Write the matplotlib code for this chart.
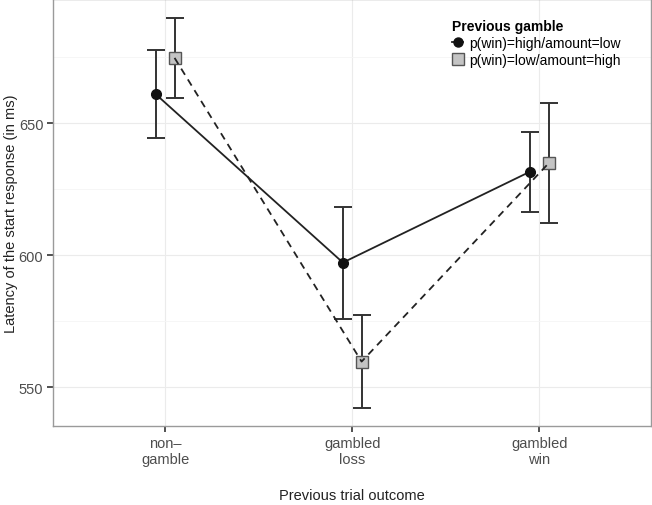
import numpy as np
import matplotlib.pyplot as plt
from matplotlib.lines import Line2D

plt.rcParams['font.family'] = ['Liberation Sans', 'DejaVu Sans']

outcomes = ['non\u2013\ngamble', 'gambled\nloss', 'gambled\nwin']
series = ['p(win)=high/amount=low', 'p(win)=low/amount=high']

mean_high = [660.9, 597.2, 631.6]
lo_high = [644.2, 575.8, 616.4]
hi_high = [677.7, 618.4, 646.8]

mean_low = [674.7, 559.7, 634.8]
lo_low = [659.6, 542.3, 612.0]
hi_low = [689.7, 577.3, 657.7]

fig = plt.figure(figsize=(6.52, 5.06), dpi=100)
ax = fig.add_axes([0.0813, 0.1555, 0.9179, 0.8445])

x = np.arange(1, len(outcomes) + 1)
dodge = 0.05
dark = '#222222'

#> circles, solid line
xh = x - dodge
ax.plot(xh, mean_high, color=dark, lw=1.3, zorder=3)
ax.errorbar(xh, mean_high,
            yerr=[np.array(mean_high) - np.array(lo_high), np.array(hi_high) - np.array(mean_high)],
            fmt='none', ecolor='#333333', elinewidth=1.4, capsize=6.5, capthick=1.4, zorder=4)
ax.plot(xh, mean_high, 'o', color='#111111', ms=7, zorder=5)

#> squares, dashed line
xl = x + dodge
ax.errorbar(xl, mean_low,
            yerr=[np.array(mean_low) - np.array(lo_low), np.array(hi_low) - np.array(mean_low)],
            fmt='none', ecolor='#333333', elinewidth=1.4, capsize=6.5, capthick=1.4, zorder=4)
ax.plot(xl, mean_low, 's', mfc='#c4c4c4', mec='#555555', mew=1.0, ms=8.5, zorder=5)
ax.plot(xl, mean_low, color=dark, lw=1.3, ls=(0, (4, 3)), zorder=6)

ax.set_xlim(0.4, 3.6)
ax.set_ylim(535.2, 697)
ax.set_xticks(x)
ax.set_xticklabels(outcomes, fontsize=10.5, color='#4d4d4d', linespacing=1.2)
ax.set_yticks([550, 600, 650])
ax.set_yticks([575, 625, 675], minor=True)
ax.tick_params(axis='y', which='minor', length=0)
ax.tick_params(axis='both', which='major', length=4, width=1.2, color='#333333',
               labelsize=10.5, labelcolor='#4d4d4d', pad=3)

ax.grid(True, which='major', color='#ebebeb', lw=0.8)
ax.grid(True, which='minor', axis='y', color='#f5f5f5', lw=0.6)
ax.set_axisbelow(True)
for sp in ax.spines.values():
    sp.set_color('#9a9a9a')
    sp.set_linewidth(1.0)

ax.set_xlabel('Previous trial outcome', fontsize=10.5, color='#222222', labelpad=16)
ax.set_ylabel('Latency of the start response (in ms)', fontsize=10.5, color='#222222')
ax.yaxis.set_label_coords(-0.059, 0.5)

handles = [
    Line2D([], [], color=dark, lw=1.3, marker='o', ms=6.5, mfc='#111111', mec='#111111'),
    Line2D([], [], color=dark, lw=1.3, ls=(0, (2, 2)), marker='s', ms=8, mfc='#c4c4c4', mec='#555555'),
]
leg = ax.legend(handles, series, title='Previous gamble', loc='upper left',
                bbox_to_anchor=(0.653, 0.972), frameon=False, fontsize=10,
                handlelength=0.8, handletextpad=0.4, labelspacing=0.2,
                borderaxespad=0.2)
leg.get_title().set_fontweight('bold')
leg.get_title().set_fontsize(10)
leg._legend_box.align = 'left'

fig.savefig('out.png', dpi=100)
